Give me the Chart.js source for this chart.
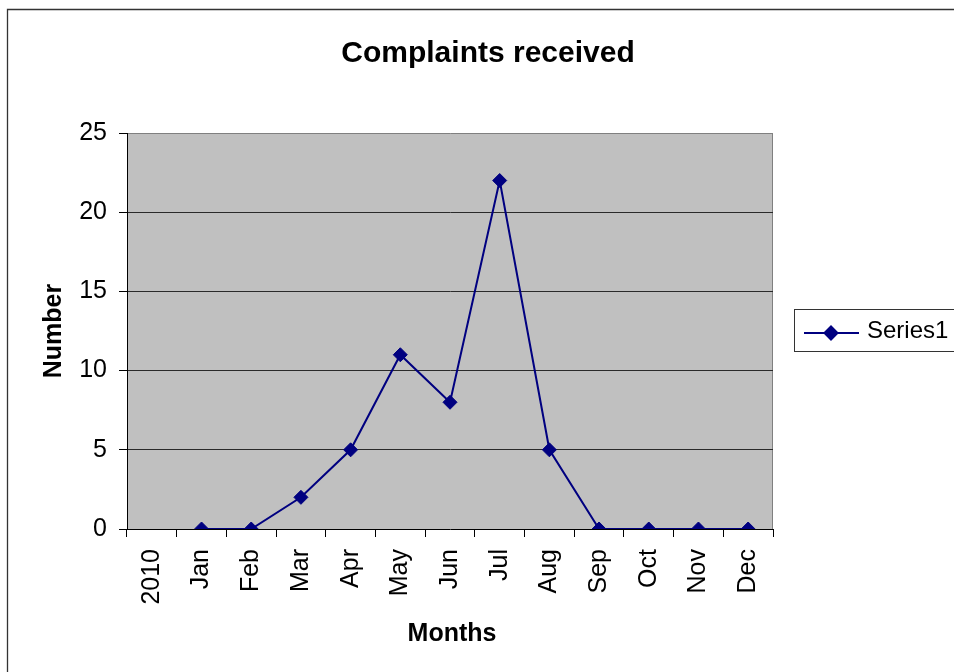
<!DOCTYPE html>
<html>
<head>
<meta charset="utf-8">
<script src="https://cdn.jsdelivr.net/npm/chart.js@4/dist/chart.umd.min.js"></script>
<style>
    html, body { margin: 0; padding: 0; background: #ffffff; }
    #wrap { width: 954px; height: 672px; position: relative; }
</style>
</head>
<body>
<div id="wrap"><canvas id="complaintsChart" width="954" height="672"></canvas></div>
<script>
// Chart data
const categories = ['2010', 'Jan', 'Feb', 'Mar', 'Apr', 'May', 'Jun', 'Jul', 'Aug', 'Sep', 'Oct', 'Nov', 'Dec'];
const series1 = [null, 0, 0, 2, 5, 11, 8, 22, 5, 0, 0, 0, 0];
const seriesName = 'Series1';
const yTicks = [0, 5, 10, 15, 20, 25];

const chartTitle = 'Complaints received';
const xTitle = 'Months';
const yTitle = 'Number';

const colors = {
    line: '#000080',
    plotBg: '#c0c0c0',
    plotEdge: '#808080',
    grid: '#2a2a2a',
    axis: '#000000',
    text: '#000000',
    frame: '#333333'
};
const fontFamily = '"Liberation Sans", Arial, sans-serif';

// Draws the frame, plot background, titles and legend box like the Excel original
const excelDecor = {
    id: 'excelDecor',
    beforeDraw(chart) {
        const ctx = chart.ctx;
        const a = chart.chartArea;
        ctx.save();
        ctx.fillStyle = '#ffffff';
        ctx.fillRect(0, 0, chart.width, chart.height);

        // outer chart frame (right and bottom edges are cropped off)
        ctx.strokeStyle = colors.frame;
        ctx.lineWidth = 1.3;
        ctx.beginPath();
        ctx.moveTo(7.5, chart.height);
        ctx.lineTo(7.5, 9.5);
        ctx.lineTo(chart.width, 9.5);
        ctx.stroke();

        // plot area
        ctx.fillStyle = colors.plotBg;
        ctx.fillRect(a.left, a.top, a.right - a.left, a.bottom - a.top);
        ctx.strokeStyle = colors.plotEdge;
        ctx.lineWidth = 1;
        ctx.beginPath();
        ctx.moveTo(Math.round(a.right) - 0.5, a.top);
        ctx.lineTo(Math.round(a.right) - 0.5, a.bottom);
        ctx.stroke();
        ctx.restore();
    },
    afterDraw(chart) {
        const ctx = chart.ctx;
        const ds = chart.data.datasets[0];
        ctx.save();
        ctx.fillStyle = colors.text;

        // chart title
        ctx.font = 'bold 30px ' + fontFamily;
        ctx.textAlign = 'center';
        ctx.textBaseline = 'alphabetic';
        ctx.fillText(chartTitle, 488, 62);

        // axis titles
        ctx.font = 'bold 25px ' + fontFamily;
        ctx.fillText(xTitle, 452, 641);
        ctx.translate(61, 331);
        ctx.rotate(-Math.PI / 2);
        ctx.fillText(yTitle, 0, 0);
        ctx.setTransform(1, 0, 0, 1, 0, 0);

        // legend
        ctx.strokeStyle = colors.frame;
        ctx.lineWidth = 1;
        ctx.strokeRect(794.5, 309.5, 220, 42);
        ctx.strokeStyle = ds.borderColor;
        ctx.lineWidth = ds.borderWidth;
        ctx.beginPath();
        ctx.moveTo(804, 333);
        ctx.lineTo(859, 333);
        ctx.stroke();
        Chart.helpers.drawPoint(ctx, {
            pointStyle: 'rectRot',
            radius: 6.5,
            borderWidth: 1
        }, 831, 333);
        ctx.fillStyle = ds.pointBackgroundColor;
        ctx.fill();
        ctx.fillStyle = colors.text;
        ctx.font = '24px ' + fontFamily;
        ctx.textAlign = 'left';
        ctx.textBaseline = 'alphabetic';
        ctx.fillText(ds.label, 867, 338);
        ctx.restore();
    }
};

const ctx = document.getElementById('complaintsChart').getContext('2d');

new Chart(ctx, {
    type: 'line',
    data: {
        labels: categories,
        datasets: [{
            label: seriesName,
            data: series1,
            borderColor: colors.line,
            backgroundColor: colors.line,
            borderWidth: 2,
            tension: 0,
            fill: false,
            pointStyle: 'rectRot',
            pointRadius: 7,
            pointBackgroundColor: colors.line,
            pointBorderColor: colors.line,
            pointBorderWidth: 1
        }]
    },
    options: {
        responsive: false,
        animation: false,
        devicePixelRatio: 1,
        layout: {
            padding: { left: 0, top: 133, right: 181, bottom: 0 }
        },
        plugins: {
            legend: { display: false },
            title: { display: false },
            tooltip: { enabled: false }
        },
        scales: {
            x: {
                type: 'category',
                offset: true,
                grid: {
                    offset: true,
                    drawOnChartArea: false,
                    drawTicks: true,
                    tickLength: 8,
                    tickColor: colors.axis
                },
                border: { display: true, color: colors.axis, width: 1 },
                ticks: {
                    color: colors.text,
                    font: { family: fontFamily, size: 25 },
                    minRotation: 90,
                    maxRotation: 90,
                    autoSkip: false,
                    padding: 12
                },
                afterFit(scale) {
                    scale.height = 143;
                }
            },
            y: {
                min: 0,
                max: 25,
                afterBuildTicks(scale) {
                    scale.ticks = yTicks.map(v => ({ value: v }));
                },
                grid: {
                    color: (c) => {
                        if (c.tick && c.tick.value === 25) return colors.plotEdge;
                        if (c.tick && c.tick.value === 0) return 'rgba(0,0,0,0)';
                        return colors.grid;
                    },
                    tickColor: colors.axis,
                    tickLength: 8,
                    lineWidth: 1
                },
                border: { display: true, color: colors.axis, width: 1 },
                ticks: {
                    color: colors.text,
                    font: { family: fontFamily, size: 25 },
                    padding: 12
                },
                afterFit(scale) {
                    scale.width = 127;
                }
            }
        }
    },
    plugins: [excelDecor]
});
</script>
</body>
</html>
